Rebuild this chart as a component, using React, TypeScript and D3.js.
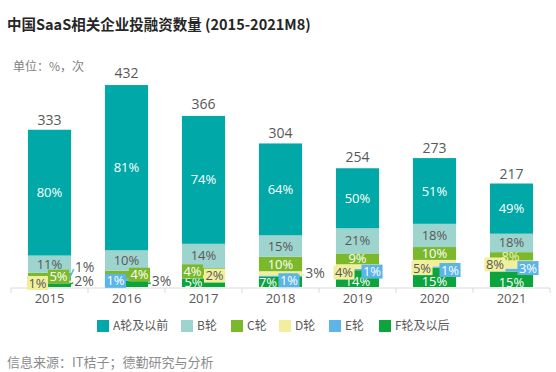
import React from 'react';
import * as d3 from 'd3';

const years = ['2015', '2016', '2017', '2018', '2019', '2020', '2021'];
const totals = [333, 432, 366, 304, 254, 273, 217];
const seriesNames = ['A轮及以前', 'B轮', 'C轮', 'D轮', 'E轮', 'F轮及以后'];
const aRound = [80, 81, 74, 64, 50, 51, 49];
const bRound = [11, 10, 14, 15, 21, 18, 18];
const cRound = [5, 4, 4, 10, 9, 10, 8];
const dRound = [1, 0, 2, 3, 4, 5, 8];
const eRound = [1, 1, 0, 1, 1, 1, 3];
const fRound = [2, 3, 5, 7, 14, 15, 15];

const COLORS = ['#00A9A7', '#9ED4CE', '#7BB92A', '#F1EF9C', '#5CB5E6', '#0CA43C'];
const TEXT_COLORS = ['#ffffff', '#595959', '#ffffff', '#595959', '#ffffff', '#ffffff'];

// label nudges for the thin segments: [series, year] -> offset from segment centre
type LabelPos = { dx: number; dy: number; mode: 'plain' | 'box' | 'out'; color?: string };
const LABEL_POS: Record<string, LabelPos> = {
  '2-0': { dx: 9, dy: 0, mode: 'box' },
  '3-0': { dx: -12, dy: 1.5, mode: 'box' },
  '4-0': { dx: 35, dy: -16, mode: 'out' },
  '5-0': { dx: 34.5, dy: -4.5, mode: 'out' },
  '2-1': { dx: 13, dy: 0, mode: 'box' },
  '4-1': { dx: -11, dy: 1, mode: 'box' },
  '5-1': { dx: 35, dy: -3, mode: 'out' },
  '2-2': { dx: -11, dy: 0, mode: 'box' },
  '3-2': { dx: 11, dy: -1, mode: 'box' },
  '5-2': { dx: -10, dy: 0, mode: 'plain' },
  '3-3': { dx: 34.5, dy: 0, mode: 'out' },
  '4-3': { dx: 8.5, dy: 4, mode: 'box' },
  '5-3': { dx: -12.5, dy: 0, mode: 'plain' },
  '3-4': { dx: -13.5, dy: 6, mode: 'box' },
  '4-4': { dx: 14.5, dy: 2, mode: 'box' },
  '5-4': { dx: 0, dy: 3, mode: 'plain' },
  '3-5': { dx: -12.5, dy: 5, mode: 'box' },
  '4-5': { dx: 15.5, dy: 3, mode: 'box' },
  '5-5': { dx: 0, dy: 4, mode: 'plain' },
  '2-6': { dx: -1, dy: 0, mode: 'plain', color: '#f4f1b0' },
  '3-6': { dx: -16.5, dy: 0, mode: 'box' },
  '4-6': { dx: 16.5, dy: -2, mode: 'box' },
  '5-6': { dx: 0, dy: 3, mode: 'plain' },
};

const FONT = '"Open Sans", "Noto Sans CJK SC", sans-serif';
const CJK = '"Noto Sans CJK SC", "Noto Sans", sans-serif';

const textWidth = (s: string, size: number) => ((s.length - 1) * 0.572 + 0.82) * size;

const App: React.FC = () => {
  const width = 556;
  const height = 372;
  const baseY = 287;

  const x = d3.scaleBand<string>().domain(years).range([11, 550]).paddingInner(0.44).paddingOuter(0.22);
  const y = d3.scaleLinear().domain([0, 432]).range([baseY, 83]);

  // stack bottom-up: F, E, D, C, B, A
  const pcts = [aRound, bRound, cRound, dRound, eRound, fRound];
  const rows = years.map((yr, i) => {
    const r: Record<string, number | string> = { year: yr };
    seriesNames.forEach((s, k) => (r[s] = (totals[i] * pcts[k][i]) / 100));
    return r;
  });
  const stackOrder = [...seriesNames].reverse();
  const stacked = d3.stack<Record<string, number | string>>().keys(stackOrder)(rows as any);

  const bars: React.ReactNode[] = [];
  const labels: React.ReactNode[] = [];

  stacked.forEach((layer) => {
    const k = seriesNames.indexOf(layer.key);
    layer.forEach((seg, i) => {
      const pct = pcts[k][i];
      if (pct <= 0) return;
      const x0 = x(years[i])!;
      const bw = x.bandwidth();
      const y0 = y(seg[1]);
      const y1 = y(seg[0]);
      bars.push(
        <rect key={`b-${k}-${i}`} x={x0} y={y0} width={bw} height={y1 - y0} fill={COLORS[k]} />
      );
      const pos = LABEL_POS[`${k}-${i}`] || { dx: 0, dy: 0, mode: 'plain' };
      const cx = x0 + bw / 2 + pos.dx;
      const cy = (y0 + y1) / 2 + pos.dy;
      const txt = `${pct}%`;
      if (pos.mode === 'out') {
        const w = textWidth(txt, 14);
        labels.push(
          <g key={`l-${k}-${i}`}>
            <line x1={x0 + bw - 4} y1={(y0 + y1) / 2} x2={cx - w / 2 - 1} y2={cy + 2} stroke={COLORS[k]} strokeWidth={1.5} />
            <text x={cx} y={cy} dy="0.35em" textAnchor="middle" fontSize={14} fill="#595959" fontFamily={FONT}>
              {txt}
            </text>
          </g>
        );
      } else {
        const w = textWidth(txt, 13);
        labels.push(
          <g key={`l-${k}-${i}`}>
            {pos.mode === 'box' && (
              <rect x={cx - w / 2 - 1.5} y={cy - 7} width={w + 3} height={14} fill={COLORS[k]} />
            )}
            <text x={cx} y={cy} dy="0.35em" textAnchor="middle" fontSize={13} fill={pos.color || TEXT_COLORS[k]} fontFamily={FONT}>
              {txt}
            </text>
          </g>
        );
      }
    });
  });

  const boundaries = d3.range(years.length + 1).map((i) => 11 + i * x.step());

  const legendX = [97, 181, 231, 279, 329, 379];

  return (
    <svg width={width} height={height} style={{ position: 'absolute', left: 0, top: 0, background: '#fff' }}>
      <text x={7} y={25} dy="0.35em" fontSize={14.5} fontWeight="bold" fill="#262626" fontFamily={CJK}>
        中国SaaS相关企业投融资数量 (2015-2021M8)
      </text>
      <text x={13} y={67} dy="0.35em" fontSize={12} fill="#7f7f7f" fontFamily={CJK}>
        单位：%，次
      </text>

      <line x1={11} x2={550} y1={288} y2={288} stroke="#d9d9d9" />
      {boundaries.map((bx, i) => (
        <line key={`t-${i}`} x1={bx} x2={bx} y1={288} y2={293} stroke="#d9d9d9" />
      ))}

      {bars}
      {labels}

      {years.map((yr, i) => (
        <g key={`y-${yr}`}>
          <text x={x(yr)! + x.bandwidth() / 2} y={y(totals[i]) - 10} dy="0.35em" textAnchor="middle" fontSize={14} fill="#595959" fontFamily={FONT}>
            {totals[i]}
          </text>
          <text x={x(yr)! + x.bandwidth() / 2} y={298} dy="0.35em" textAnchor="middle" fontSize={13} fill="#595959" fontFamily={FONT}>
            {yr}
          </text>
        </g>
      ))}

      {seriesNames.map((s, k) => (
        <g key={`lg-${s}`} transform={`translate(${legendX[k]},320)`}>
          <rect width={12} height={12} fill={COLORS[k]} />
          <text x={16} y={6} dy="0.35em" fontSize={12} fill="#595959" fontFamily={CJK}>
            {s}
          </text>
        </g>
      ))}

      <text x={7} y={362} dy="0.35em" fontSize={13} fill="#8c8c8c" fontFamily={CJK}>
        信息来源：IT桔子；德勤研究与分析
      </text>
    </svg>
  );
};

export default App;
